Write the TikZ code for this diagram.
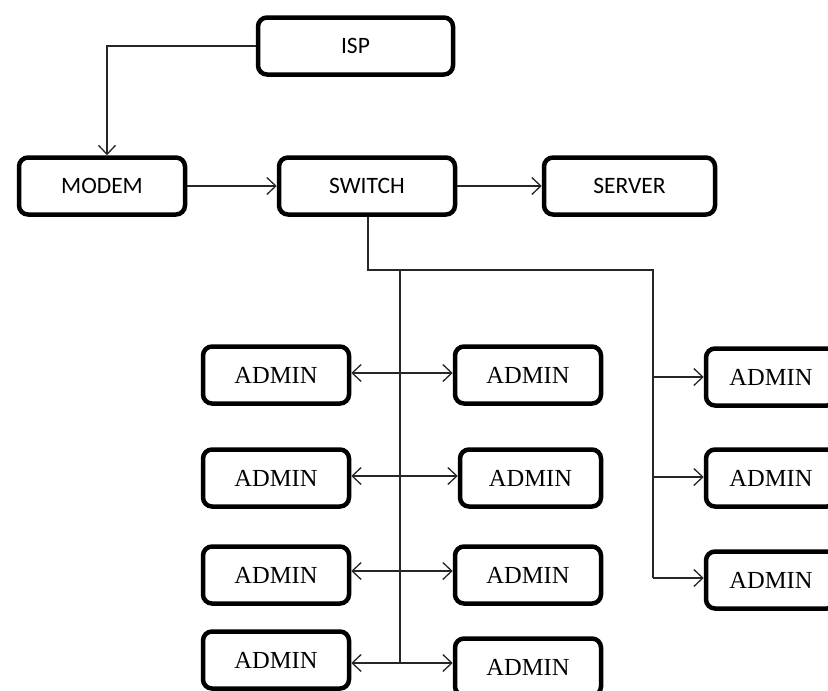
\documentclass[tikz,border=0pt]{standalone}
\usepackage{fontspec}
\setmainfont{Liberation Serif}
\newfontfamily\boxsans{Carlito}
\usetikzlibrary{arrows.meta}

\tikzset{
    box/.style={draw, line width=4.5pt, rounded corners=9pt, inner sep=0pt,
        minimum height=57pt, fill=white},
    netbox/.style={box, font=\boxsans\fontsize{23.5}{28}\selectfont},
    adminbox/.style={box, minimum width=146pt, font=\fontsize{24.5}{29}\selectfont},
    link/.style={line width=1.3pt, draw=black!85},
    tip/.style={link, -{Straight Barb[length=9pt,width=17pt,line width=1.3pt]}},
    twotip/.style={link, {Straight Barb[length=9pt,width=17pt,line width=1.3pt]}-{Straight Barb[length=9pt,width=17pt,line width=1.3pt]}}
}

\begin{document}
\begin{tikzpicture}[x=1pt, y=-1pt]
    \clip (0,0) rectangle (828,691);
    \fill[white] (0,0) rectangle (828,691);

    % top row
    \node[netbox, minimum width=195pt] (isp) at (355.5,46) {ISP};
    \node[netbox, minimum width=166pt] (modem) at (102,186) {MODEM};
    \node[netbox, minimum width=176pt] (switch) at (367,186) {SWITCH};
    \node[netbox, minimum width=171pt] (server) at (629.5,186) {SERVER};

    \draw[tip] (isp.west) -| ([xshift=5pt]modem.north);
    \draw[tip] (modem.east) -- (switch.west);
    \draw[tip] (switch.east) -- (server.west);

    % left and middle columns
    \node[adminbox] (a1) at (276,375) {ADMIN};
    \node[adminbox] (a2) at (276,478) {ADMIN};
    \node[adminbox] (a3) at (276,575) {ADMIN};
    \node[adminbox] (a4) at (276,660) {ADMIN};

    \node[adminbox] (b1) at (528,375) {ADMIN};
    \node[adminbox, minimum width=141pt] (b2) at (530.5,478) {ADMIN};
    \node[adminbox] (b3) at (528,575) {ADMIN};
    \node[adminbox] (b4) at (528,667) {ADMIN};

    % right column, runs past the edge
    \node[adminbox, minimum width=130pt] (c1) at (771,377) {ADMIN};
    \node[adminbox, minimum width=130pt] (c2) at (771,478) {ADMIN};
    \node[adminbox, minimum width=130pt] (c3) at (771,580) {ADMIN};

    % bus lines
    \coordinate (ltop) at (400,270);
    \coordinate (rtop) at (653,270);
    \coordinate (l1) at (400,373);
    \coordinate (l2) at (400,476);
    \coordinate (l3) at (400,571);
    \coordinate (l4) at (400,663);
    \coordinate (r1) at (653,377);
    \coordinate (r2) at (653,477);
    \coordinate (r3) at (653,578);

    \draw[link] ([xshift=1pt]switch.south) |- (rtop) -- (r3);
    \draw[link] (ltop) -- (l4);

    \draw[twotip] (a1.east |- l1) -- (b1.west |- l1);
    \draw[twotip] (a2.east |- l2) -- (b2.west |- l2);
    \draw[twotip] (a3.east |- l3) -- (b3.west |- l3);
    \draw[twotip] (a4.east |- l4) -- (b4.west |- l4);

    \draw[tip] (r1) -- (c1.west |- r1);
    \draw[tip] (r2) -- (c2.west |- r2);
    \draw[tip] (r3) -- (c3.west |- r3);
\end{tikzpicture}
\end{document}
